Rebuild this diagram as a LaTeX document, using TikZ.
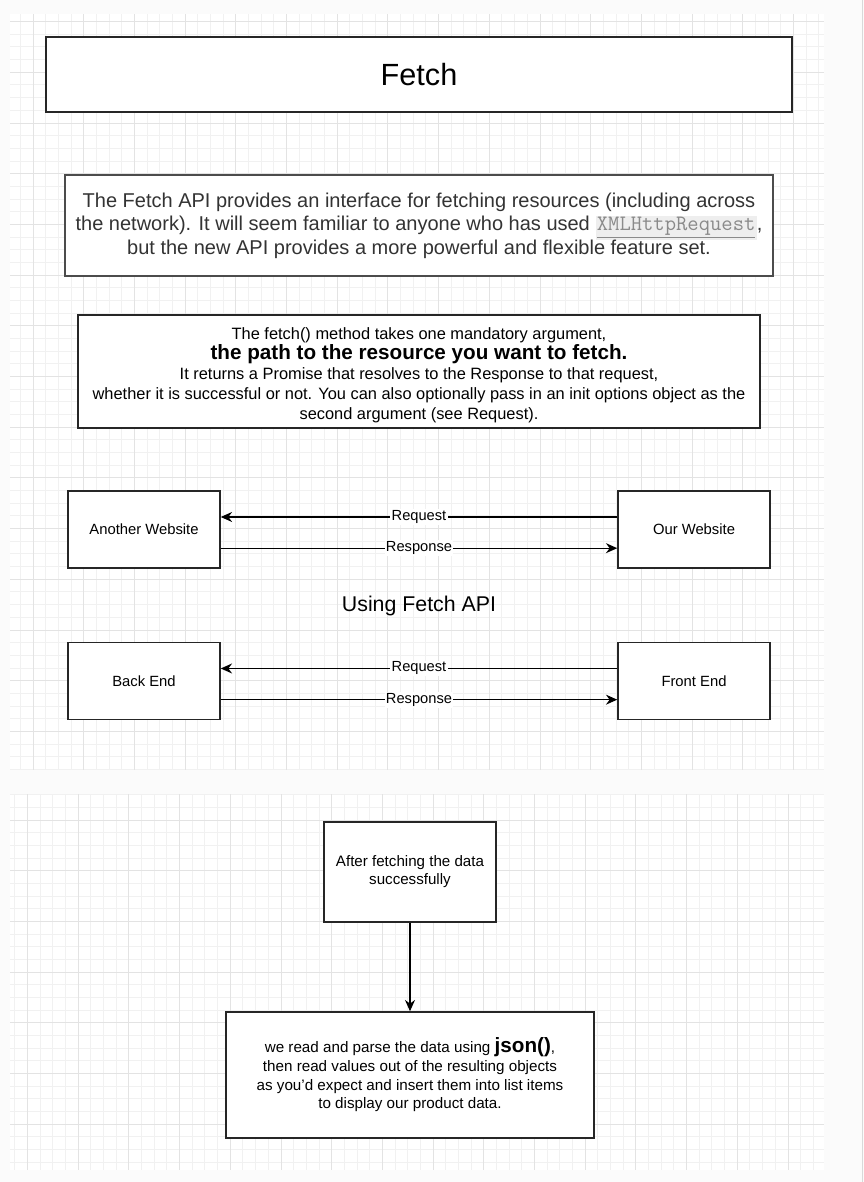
\documentclass[tikz,border=0pt]{standalone}
\usepackage{fontspec}
\setmainfont{Liberation Sans}
\usetikzlibrary{arrows.meta}
\definecolor{pagebg}{HTML}{FBFBFB}
\definecolor{gridminor}{HTML}{F1F1F1}
\definecolor{gridmajor}{HTML}{E3E3E3}
\definecolor{codebg}{HTML}{EEEEEE}
\definecolor{codefg}{HTML}{8A8A8A}
\definecolor{softtext}{HTML}{333333}
\def\fs#1#2{\fontsize{#1}{#2}\selectfont}
\def\xhr{{\setlength\fboxsep{1pt}\colorbox{codebg}{\ttfamily\fs{16.5}{17}\color{codefg}\underline{XMLHttpRequest}}}}
\def\PaperGrid#1#2#3#4#5#6{
    \begin{scope}
    \clip (#1,#2) rectangle (#3,#4);
    \fill[white] (#1,#2) rectangle (#3,#4);
    \foreach \k in {-5,...,64} {
        \draw[minorline] ({#5+12.675*\k},#2) -- ({#5+12.675*\k},#4);
        \draw[minorline] (#1,{#6+12.675*\k}) -- (#3,{#6+12.675*\k});
    }
    \foreach \k in {-2,...,16} {
        \draw[majorline] ({#5+50.7*\k},#2) -- ({#5+50.7*\k},#4);
        \draw[majorline] (#1,{#6+50.7*\k}) -- (#3,{#6+50.7*\k});
    }
    \end{scope}
}
\tikzset{
    minorline/.style={gridminor, line width=0.75pt},
    majorline/.style={gridmajor, line width=0.75pt},
    box/.style={draw=black!85, line width=1.1pt, fill=white, inner sep=0pt, align=center},
    site/.style={box, minimum width=114pt, minimum height=57.75pt, font=\fs{11.1}{13}},
    link/.style={line width=1pt, -{Stealth[length=8.5pt,width=7.5pt]}},
    tag/.style={fill=white, inner sep=1pt, font=\fs{11}{13}}
}
\begin{document}
\begin{tikzpicture}[x=0.75pt, y=-0.75pt]
    \useasboundingbox (0,0) rectangle (864,1182);
    \fill[pagebg] (0,0) rectangle (864,1182);
    \draw[black!15, line width=0.75pt] (862.5,0) -- (862.5,1182);
    \PaperGrid{10}{14}{824}{770}{33}{72.3}
    \PaperGrid{10}{794}{824}{1170}{27.5}{820}

    \node[box, minimum width=559.5pt, minimum height=56.25pt, font=\fs{23}{27}] (title) at (419,74.5) {Fetch};

    \node[box, draw=black!70, minimum width=531pt, minimum height=75.75pt, font=\fs{15}{17.6}, text=softtext] (intro) at (419,225.5)
        {The Fetch API provides an interface for fetching resources (including across\\
         the network). It will seem familiar to anyone who has used \xhr,\\
         but the new API provides a more powerful and flexible feature set.};

    \node[box, minimum width=511.5pt, minimum height=84.75pt, font=\fs{12.3}{15}] (method) at (419,371.5)
        {\rule{0pt}{15pt}The fetch() method takes one mandatory argument,\\
         {\bfseries\fs{15.5}{15}the path to the resource you want to fetch.}\\
         It returns a Promise that resolves to the Response to that request,\\
         whether it is successful or not. You can also optionally pass in an init options object as the\\
         second argument (see Request).};

    \node[site] (another) at (144,529.5) {Another Website};
    \node[site] (our) at (694,529.5) {Our Website};
    \draw[link] ([yshift=9.4pt]our.west) -- node[tag] {Request} ([yshift=9.4pt]another.east);
    \draw[link] ([yshift=-14pt]another.east) -- node[tag] {Response} ([yshift=-14pt]our.west);

    \node[font=\fs{16}{18}] (using) at (419,606) {Using Fetch API};

    \node[site] (back) at (144,681) {Back End};
    \node[site] (front) at (694,681) {Front End};
    \draw[link] ([yshift=9.4pt]front.west) -- node[tag] {Request} ([yshift=9.4pt]back.east);
    \draw[link] ([yshift=-14pt]back.east) -- node[tag] {Response} ([yshift=-14pt]front.west);

    \node[box, minimum width=129pt, minimum height=75pt, font=\fs{11.35}{13.5}] (fetched) at (410,872)
        {After fetching the data\\ successfully};
    \node[box, minimum width=276pt, minimum height=94.5pt, font=\fs{11.4}{14}] (parse) at (410,1075)
        {we read and parse the data using {\bfseries\fs{15.5}{14}json()},\\
         then read values out of the resulting objects\\
         as you'd expect and insert them into list items\\
         to display our product data.};
    \draw[link] (fetched) -- (parse);
\end{tikzpicture}
\end{document}
